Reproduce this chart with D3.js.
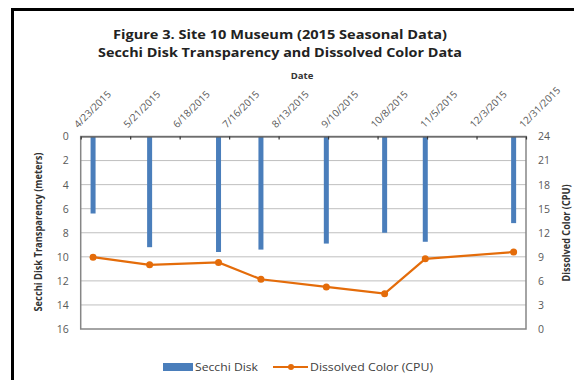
<!DOCTYPE html>
<html>
<head>
<meta charset="utf-8">
<script src="https://cdn.jsdelivr.net/npm/d3@7/dist/d3.min.js"></script>
<style>
  html, body { margin: 0; padding: 0; background: #fff; }
  svg { display: block; }
  text { font-family: "Open Sans", "Noto Sans", sans-serif; }
</style>
</head>
<body>
<svg id="chart" width="578" height="380"></svg>
<script>
// ---- data ----
const sampleDates = ["2015-04-30", "2015-06-01", "2015-07-10", "2015-08-03", "2015-09-09", "2015-10-12", "2015-11-04", "2015-12-24"];
const secchiDepth = [6.4, 9.2, 9.6, 9.4, 8.9, 8.0, 8.75, 7.2];
const dissolvedColor = [8.95, 8.0, 8.3, 6.2, 5.25, 4.4, 8.75, 9.6];
const dateTicks = ["2015-04-23", "2015-05-21", "2015-06-18", "2015-07-16", "2015-08-13", "2015-09-10", "2015-10-08", "2015-11-05", "2015-12-03", "2015-12-31"];
const leftTicks = [0, 2, 4, 6, 8, 10, 12, 14, 16];
const rightTicks = [0, 3, 6, 9, 12, 15, 18, 21, 24];
const titleLines = ["Figure 3. Site 10 Museum (2015 Seasonal Data)", "Secchi Disk Transparency and Dissolved Color Data"];

const parse = d3.utcParse("%Y-%m-%d");
const fmt = d => (d.getUTCMonth() + 1) + "/" + d.getUTCDate() + "/" + d.getUTCFullYear();

const svg = d3.select("#chart");
svg.append("rect").attr("width", 578).attr("height", 380).attr("fill", "#fff");

// outer frame (cropped)
svg.append("path").attr("d", "M12.5,380 V9.5 H574").attr("fill", "none").attr("stroke", "#000").attr("stroke-width", 3);

const L = 80.7, R = 526, T = 136.5, B = 329;

const x = d3.scaleUtc().domain([parse(dateTicks[0]), parse(dateTicks[dateTicks.length - 1])]).range([L, R]);
const yL = d3.scaleLinear().domain([0, 16]).range([T, B]);
const yR = d3.scaleLinear().domain([0, 24]).range([B, T]);

// gridlines
svg.append("g").selectAll("line").data(leftTicks.slice(1, -1)).join("line")
  .attr("x1", L).attr("x2", R).attr("y1", d => yL(d)).attr("y2", d => yL(d))
  .attr("stroke", "#bfbfbf").attr("stroke-width", 1);

// bars
const barW = 5;
svg.append("g").selectAll("rect").data(sampleDates).join("rect")
  .attr("x", (d) => x(parse(d)) - barW / 2)
  .attr("y", yL(0))
  .attr("width", barW)
  .attr("height", (d, i) => yL(secchiDepth[i]) - yL(0))
  .attr("fill", "#4a7ebb");

// plot border
svg.append("rect").attr("x", L).attr("y", T).attr("width", R - L).attr("height", B - T)
  .attr("fill", "none").attr("stroke", "#868686").attr("stroke-width", 1.5);

// top date axis
const topAxis = d3.axisTop(x).tickValues(dateTicks.map(parse)).tickSizeOuter(0).tickSizeInner(-3).tickFormat(fmt);
const gx = svg.append("g").attr("transform", `translate(0,${T})`).call(topAxis);
gx.select(".domain").attr("stroke", "#555").attr("stroke-width", 1.2);
gx.selectAll(".tick line").attr("stroke", "#333").attr("stroke-width", 1.2);
gx.selectAll(".tick text")
  .attr("font-size", 10).attr("fill", "#595959")
  .attr("text-anchor", "start")
  .attr("transform", "translate(-3,-8) rotate(-45)")
  .attr("x", 0).attr("y", 0).attr("dy", 0);

// left axis
const leftAxis = d3.axisLeft(yL).tickValues(leftTicks).tickSize(0).tickPadding(12);
const gl = svg.append("g").attr("transform", `translate(${L},0)`).call(leftAxis);
gl.select(".domain").remove();
gl.selectAll(".tick text").attr("font-size", 10.5).attr("fill", "#595959");

// right axis
const rightAxis = d3.axisRight(yR).tickValues(rightTicks).tickSize(0).tickPadding(12);
const gr = svg.append("g").attr("transform", `translate(${R},0)`).call(rightAxis);
gr.select(".domain").remove();
gr.selectAll(".tick text").attr("font-size", 10.5).attr("fill", "#595959");

// line series
const pts = sampleDates.map((d, i) => [x(parse(d)), yR(dissolvedColor[i])]);
svg.append("path").datum(pts).attr("d", d3.line())
  .attr("fill", "none").attr("stroke", "#e46c0a").attr("stroke-width", 2.2);
svg.append("g").selectAll("circle").data(pts).join("circle")
  .attr("cx", d => d[0]).attr("cy", d => d[1]).attr("r", 3.5).attr("fill", "#e46c0a");

// titles
svg.append("text").attr("x", 280).attr("y", 39).attr("text-anchor", "middle")
  .attr("font-size", 13).attr("font-weight", "bold").attr("fill", "#222")
  .attr("textLength", 334).attr("lengthAdjust", "spacingAndGlyphs").text(titleLines[0]);
svg.append("text").attr("x", 280).attr("y", 56.5).attr("text-anchor", "middle")
  .attr("font-size", 13).attr("font-weight", "bold").attr("fill", "#222")
  .attr("textLength", 364).attr("lengthAdjust", "spacingAndGlyphs").text(titleLines[1]);

svg.append("text").attr("x", 302).attr("y", 79).attr("text-anchor", "middle")
  .attr("font-size", 9.5).attr("font-weight", "bold").attr("fill", "#333").text("Date");

svg.append("text").attr("transform", "translate(42,232) rotate(-90)").attr("text-anchor", "middle")
  .attr("font-size", 10).attr("font-weight", "bold").attr("fill", "#333")
  .attr("textLength", 159).attr("lengthAdjust", "spacingAndGlyphs").text("Secchi Disk Transparency (meters)");
svg.append("text").attr("transform", "translate(570,233) rotate(-90)").attr("text-anchor", "middle")
  .attr("font-size", 10).attr("font-weight", "bold").attr("fill", "#333")
  .attr("textLength", 97).attr("lengthAdjust", "spacingAndGlyphs").text("Dissolved Color (CPU)");

// legend
const lg = svg.append("g");
lg.append("rect").attr("x", 163).attr("y", 363).attr("width", 30).attr("height", 8).attr("fill", "#4a7ebb");
lg.append("text").attr("x", 195).attr("y", 371).attr("font-size", 10.5).attr("fill", "#404040")
  .attr("textLength", 63).attr("lengthAdjust", "spacingAndGlyphs").text("Secchi Disk");
lg.append("line").attr("x1", 273).attr("x2", 308).attr("y1", 367).attr("y2", 367)
  .attr("stroke", "#e46c0a").attr("stroke-width", 2.2);
lg.append("circle").attr("cx", 291).attr("cy", 367).attr("r", 3).attr("fill", "#e46c0a");
lg.append("text").attr("x", 310).attr("y", 371).attr("font-size", 10.5).attr("fill", "#404040")
  .attr("textLength", 123).attr("lengthAdjust", "spacingAndGlyphs").text("Dissolved Color (CPU)");
</script>
</body>
</html>
